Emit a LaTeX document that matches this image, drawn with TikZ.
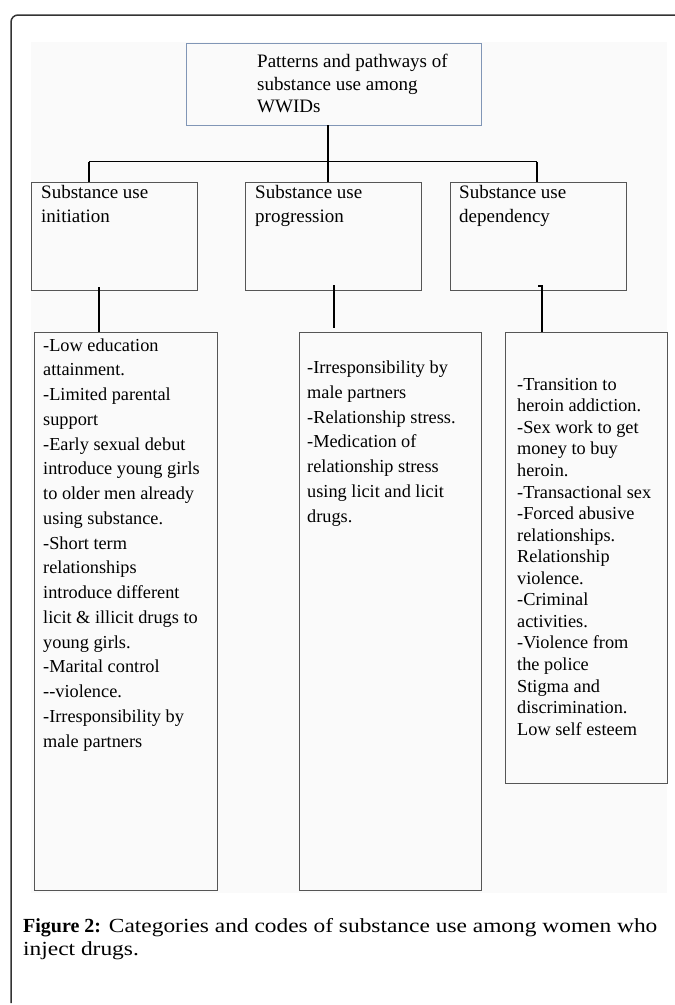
\documentclass[tikz,border=0pt]{standalone}
\usepackage{fontspec}
\setmainfont{Liberation Serif}
\newfontfamily\capfont[FakeStretch=1.17]{Liberation Serif}
\newfontfamily\capbold{Liberation Serif}
\definecolor{framegray}{HTML}{333333}
\definecolor{boxgray}{HTML}{555555}
\definecolor{topblue}{HTML}{8196B6}
\definecolor{bggray}{HTML}{FAFAFA}
\begin{document}
\begin{tikzpicture}[x=1pt,y=-1pt,
  box/.style={draw=boxgray,line width=0.9pt,inner sep=0pt,outer sep=0pt,anchor=north west},
  topbox/.style={box,draw=topblue},
  conn/.style={draw=black,line width=1.2pt},
  headtxt/.style={anchor=north west,inner sep=0pt,align=left,font={\fontsize{19}{24}\selectfont}},
  toptxt/.style={anchor=north west,inner sep=0pt,align=left,font={\fontsize{19}{22.5}\selectfont}},
  listtxt/.style={anchor=north west,inner sep=0pt,align=left,font={\fontsize{18.3}{24.75}\selectfont}},
  listtxtc/.style={anchor=north west,inner sep=0pt,align=left,font={\fontsize{18.3}{21.56}\selectfont}},
  captxt/.style={anchor=north west,inner sep=0pt,align=left,font={\capfont\fontsize{20}{23}\selectfont}}
]
\useasboundingbox (0,0) rectangle (675,1005);
\fill[white] (0,0) rectangle (675,1005);
\fill[bggray] (31,42) rectangle (667,893);
\draw[framegray,line width=1.5pt,rounded corners=7pt] (675,15) -- (11,15) -- (11,1003);

% boxes
\node[topbox,minimum width=295pt,minimum height=82pt] (top) at (186,43) {};
\node[box,minimum width=166pt,minimum height=108pt] (s1) at (31,182) {};
\node[box,minimum width=176pt,minimum height=108pt] (s2) at (245,182) {};
\node[box,minimum width=176pt,minimum height=108pt] (s3) at (450,182) {};
\node[box,minimum width=183pt,minimum height=558pt] (d1) at (34,332) {};
\node[box,minimum width=182pt,minimum height=558pt] (d2) at (299,332) {};
\node[box,minimum width=162pt,minimum height=451pt] (d3) at (505,332) {};

% texts
\node[toptxt] (toptext) at (257,51.75) {\strut Patterns and pathways of\\substance use among\\WWIDs};
\node[headtxt] (s1text) at (41,181.7) {\strut Substance use\\initiation};
\node[headtxt] (s2text) at (255,181.7) {\strut Substance use\\progression};
\node[headtxt] (s3text) at (459,181.7) {\strut Substance use\\dependency};

\node[listtxt] (d1text) at (43,333.7) {\strut -Low education\\attainment.\\-Limited parental\\support\\-Early sexual debut\\introduce young girls\\to older men already\\using substance.\\-Short term\\relationships\\introduce different\\licit \& illicit drugs to\\young girls.\\-Marital control\\-{}-violence.\\-Irresponsibility by\\male partners};
\node[listtxt] (d2text) at (307,356) {\strut -Irresponsibility by\\male partners\\-Relationship stress.\\-Medication of\\relationship stress\\using licit and licit\\drugs.};
\node[listtxtc] (d3text) at (517,374.9) {\strut -Transition to\\heroin addiction.\\-Sex work to get\\money to buy\\heroin.\\-Transactional sex\\-Forced abusive\\relationships.\\Relationship\\violence.\\-Criminal\\activities.\\-Violence from\\the police\\Stigma and\\discrimination.\\Low self esteem};

\node[captxt] (caption) at (23,915.9) {\strut{\capbold\bfseries Figure 2:} Categories and codes of substance use among women who\\inject drugs.};

% connectors
\coordinate (hub) at (328,161.5);
\coordinate (jA) at (89,161.5);
\coordinate (jC) at (537,161.5);
\draw[conn] ([xshift=-5.5pt]top.south) -- (hub);
\draw[conn] (jA) -- (jC);
\draw[conn] (jA) -- (jA |- s1.north);
\draw[conn] (hub) -- (hub |- s2.north);
\draw[conn] (jC) -- (jC |- s3.north);

\coordinate (kA) at (99,287);
\coordinate (kB) at (334,285);
\coordinate (kB2) at (334,328);
\coordinate (kC) at (538,286);
\coordinate (kC2) at (542,286);
\draw[conn] (kA) -- (kA |- d1.north);
\draw[conn] (kB) -- (kB2);
\draw[conn] (kC) -- (kC2) -- (kC2 |- d3.north);
\end{tikzpicture}
\end{document}
